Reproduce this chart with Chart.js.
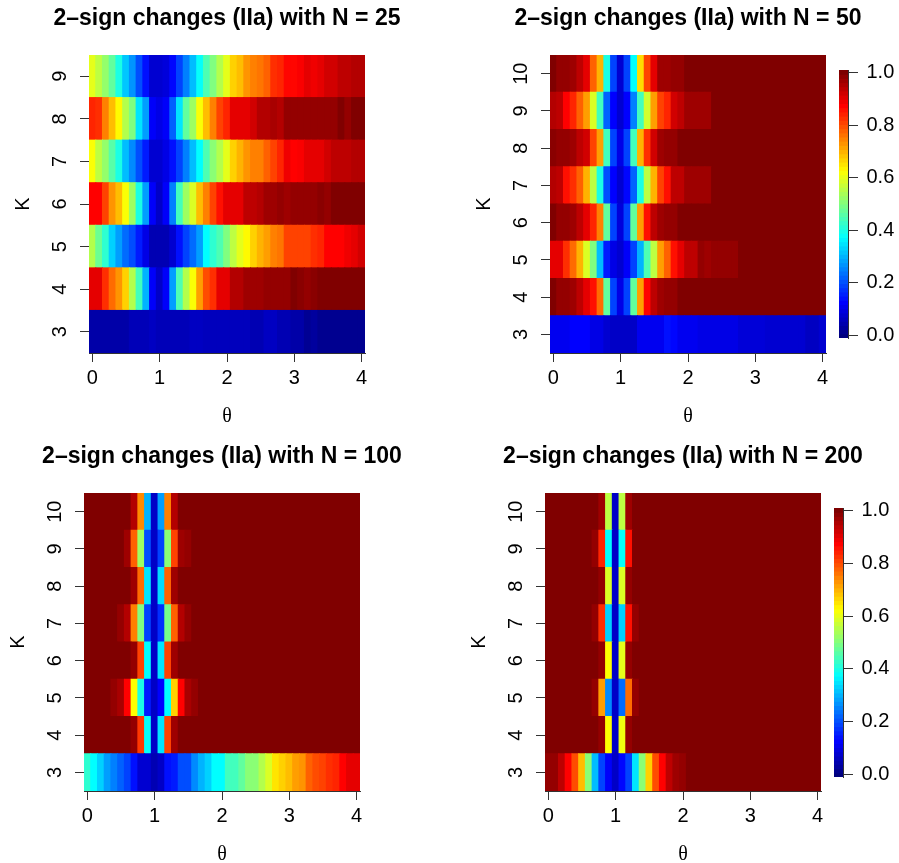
<!DOCTYPE html>
<html>
<head>
<meta charset="utf-8">
<script src="https://cdn.jsdelivr.net/npm/chart.js@4/dist/chart.umd.min.js"></script>
<style>
  html, body { margin: 0; padding: 0; background: #fff; overflow: hidden; }
  #wrap { position: relative; width: 899px; height: 863px; overflow: hidden; }
  #wrap canvas { position: absolute; }
</style>
</head>
<body>
<div id="wrap">
  <canvas id="n25" width="444" height="433" style="left:5px;top:0px"></canvas>
  <canvas id="n50" width="444" height="433" style="left:466px;top:0px"></canvas>
  <canvas id="n100" width="444" height="433" style="left:0px;top:438px"></canvas>
  <canvas id="n200" width="444" height="433" style="left:461px;top:438px"></canvas>
  <canvas id="cb50" width="64" height="318" style="left:835px;top:45px"></canvas>
  <canvas id="cb200" width="69" height="319" style="left:830px;top:483px"></canvas>
</div>
<script>
// theta grid (columns) and K values (rows)
const THETA = [0, 0.1, 0.2, 0.3, 0.4, 0.5, 0.6, 0.7, 0.8, 0.9, 1, 1.1, 1.2, 1.3, 1.4, 1.5, 1.6, 1.7, 1.8, 1.9, 2,
               2.1, 2.2, 2.3, 2.4, 2.5, 2.6, 2.7, 2.8, 2.9, 3, 3.1, 3.2, 3.3, 3.4, 3.5, 3.6, 3.7, 3.8, 3.9, 4];
const K_TO_9 = [3, 4, 5, 6, 7, 8, 9];
const K_TO_10 = [3, 4, 5, 6, 7, 8, 9, 10];
const THETA_TICKS = [0, 1, 2, 3, 4];
const LEGEND_TICKS = [0, 0.2, 0.4, 0.6, 0.8, 1];

// proportion of 2-sign-change detections, one row per K (K = 3 first)
const N25 = [
  [0.04, 0.04, 0.04, 0.04, 0.04, 0.04, 0.055, 0.055, 0.055, 0.065, 0.055, 0.055, 0.055, 0.055, 0.055, 0.065, 0.065, 0.06, 0.06, 0.06, 0.06, 0.06, 0.06, 0.06, 0.05, 0.05, 0.065, 0.065, 0.05, 0.05, 0.04, 0.04, 0.02, 0.03, 0.016, 0.016, 0.016, 0.016, 0.016, 0.016, 0.016],
  [0.90, 0.90, 0.83, 0.77, 0.73, 0.67, 0.55, 0.44, 0.30, 0.12, 0.07, 0.12, 0.28, 0.45, 0.55, 0.62, 0.72, 0.80, 0.83, 0.90, 0.90, 0.95, 0.95, 0.97, 0.97, 0.97, 0.98, 0.98, 0.98, 0.98, 1, 0.99, 0.98, 0.99, 1, 1, 1, 1, 1, 1, 1],
  [0.55, 0.48, 0.42, 0.33, 0.28, 0.23, 0.20, 0.15, 0.10, 0.05, 0.05, 0.05, 0.08, 0.14, 0.19, 0.23, 0.28, 0.375, 0.42, 0.45, 0.50, 0.56, 0.60, 0.63, 0.67, 0.70, 0.72, 0.75, 0.76, 0.81, 0.81, 0.81, 0.81, 0.83, 0.84, 0.875, 0.875, 0.875, 0.89, 0.90, 0.92],
  [0.875, 0.875, 0.81, 0.73, 0.69, 0.62, 0.53, 0.40, 0.28, 0.12, 0.07, 0.12, 0.25, 0.44, 0.53, 0.59, 0.69, 0.75, 0.81, 0.86, 0.90, 0.90, 0.90, 0.94, 0.94, 0.95, 0.97, 0.97, 0.98, 0.97, 0.98, 0.98, 0.98, 0.98, 0.99, 0.98, 1, 1, 1, 1, 1],
  [0.62, 0.56, 0.52, 0.46, 0.40, 0.31, 0.26, 0.20, 0.15, 0.08, 0.08, 0.10, 0.14, 0.19, 0.25, 0.31, 0.375, 0.45, 0.51, 0.55, 0.60, 0.67, 0.70, 0.73, 0.75, 0.75, 0.78, 0.81, 0.84, 0.89, 0.875, 0.88, 0.90, 0.90, 0.90, 0.92, 0.94, 0.94, 0.94, 0.95, 0.95],
  [0.84, 0.83, 0.75, 0.69, 0.63, 0.55, 0.50, 0.35, 0.28, 0.12, 0.10, 0.12, 0.22, 0.35, 0.47, 0.53, 0.62, 0.69, 0.75, 0.81, 0.84, 0.90, 0.90, 0.90, 0.92, 0.95, 0.95, 0.96, 0.95, 0.98, 0.98, 0.98, 0.98, 0.98, 0.98, 0.98, 0.98, 1, 0.98, 1, 1],
  [0.60, 0.56, 0.52, 0.47, 0.40, 0.32, 0.27, 0.20, 0.14, 0.08, 0.08, 0.09, 0.13, 0.19, 0.25, 0.31, 0.38, 0.45, 0.50, 0.55, 0.60, 0.67, 0.69, 0.73, 0.75, 0.76, 0.78, 0.83, 0.84, 0.87, 0.87, 0.88, 0.90, 0.89, 0.90, 0.92, 0.92, 0.94, 0.94, 0.95, 0.95]
];

const N50 = [
  [0.11, 0.11, 0.11, 0.125, 0.125, 0.125, 0.10, 0.10, 0.08, 0.07, 0.07, 0.07, 0.07, 0.11, 0.11, 0.11, 0.11, 0.14, 0.13, 0.11, 0.11, 0.11, 0.10, 0.10, 0.10, 0.10, 0.10, 0.10, 0.087, 0.087, 0.087, 0.087, 0.08, 0.08, 0.08, 0.08, 0.08, 0.08, 0.065, 0.065, 0.08],
  [1, 0.98, 0.98, 0.97, 0.94, 0.90, 0.86, 0.77, 0.47, 0.19, 0.10, 0.19, 0.47, 0.72, 0.875, 0.94, 0.97, 0.98, 0.98, 1, 1, 1, 1, 1, 1, 1, 1, 1, 1, 1, 1, 1, 1, 1, 1, 1, 1, 1, 1, 1, 1],
  [0.90, 0.90, 0.83, 0.77, 0.70, 0.59, 0.50, 0.31, 0.15, 0.10, 0.08, 0.12, 0.19, 0.30, 0.45, 0.56, 0.72, 0.78, 0.86, 0.90, 0.94, 0.94, 0.98, 0.97, 0.98, 0.98, 0.98, 0.98, 1, 1, 1, 1, 1, 1, 1, 1, 1, 1, 1, 1, 1],
  [1, 0.98, 0.98, 0.97, 0.94, 0.90, 0.84, 0.75, 0.47, 0.19, 0.09, 0.19, 0.47, 0.72, 0.86, 0.94, 0.97, 0.98, 0.98, 1, 1, 1, 1, 1, 1, 1, 1, 1, 1, 1, 1, 1, 1, 1, 1, 1, 1, 1, 1, 1, 1],
  [0.95, 0.94, 0.86, 0.83, 0.78, 0.70, 0.56, 0.40, 0.20, 0.125, 0.08, 0.13, 0.22, 0.40, 0.56, 0.70, 0.81, 0.86, 0.94, 0.94, 0.97, 0.97, 0.97, 0.97, 1, 1, 1, 1, 1, 1, 1, 1, 1, 1, 1, 1, 1, 1, 1, 1, 1],
  [0.99, 0.98, 0.98, 0.97, 0.94, 0.92, 0.81, 0.72, 0.44, 0.19, 0.10, 0.19, 0.44, 0.70, 0.83, 0.92, 0.97, 0.98, 0.98, 1, 1, 1, 1, 1, 1, 1, 1, 1, 1, 1, 1, 1, 1, 1, 1, 1, 1, 1, 1, 1, 1],
  [0.95, 0.94, 0.875, 0.84, 0.78, 0.72, 0.59, 0.44, 0.22, 0.125, 0.08, 0.125, 0.25, 0.44, 0.58, 0.72, 0.81, 0.84, 0.92, 0.94, 0.97, 0.97, 0.97, 0.97, 1, 1, 1, 1, 1, 1, 1, 1, 1, 1, 1, 1, 1, 1, 1, 1, 1],
  [1, 0.98, 0.98, 0.97, 0.94, 0.90, 0.78, 0.70, 0.40, 0.19, 0.08, 0.19, 0.375, 0.66, 0.81, 0.90, 0.97, 0.97, 0.98, 0.98, 1, 1, 1, 1, 1, 1, 1, 1, 1, 1, 1, 1, 1, 1, 1, 1, 1, 1, 1, 1, 1]
];

const N100 = [
  [0.42, 0.375, 0.33, 0.28, 0.25, 0.22, 0.19, 0.14, 0.08, 0.08, 0.05, 0.07, 0.14, 0.15, 0.20, 0.20, 0.26, 0.30, 0.33, 0.375, 0.375, 0.44, 0.44, 0.47, 0.51, 0.51, 0.55, 0.59, 0.65, 0.67, 0.69, 0.72, 0.73, 0.78, 0.80, 0.81, 0.83, 0.84, 0.875, 0.90, 0.90],
  [1, 1, 1, 1, 1, 1, 1, 0.98, 0.82, 0.38, 0.07, 0.35, 0.81, 0.97, 1, 1, 1, 1, 1, 1, 1, 1, 1, 1, 1, 1, 1, 1, 1, 1, 1, 1, 1, 1, 1, 1, 1, 1, 1, 1, 1],
  [1, 1, 1, 1, 0.98, 0.96, 0.875, 0.625, 0.40, 0.15, 0.07, 0.125, 0.375, 0.67, 0.875, 0.96, 0.98, 1, 1, 1, 1, 1, 1, 1, 1, 1, 1, 1, 1, 1, 1, 1, 1, 1, 1, 1, 1, 1, 1, 1, 1],
  [1, 1, 1, 1, 1, 1, 1, 0.98, 0.81, 0.375, 0.07, 0.35, 0.81, 0.97, 1, 1, 1, 1, 1, 1, 1, 1, 1, 1, 1, 1, 1, 1, 1, 1, 1, 1, 1, 1, 1, 1, 1, 1, 1, 1, 1],
  [1, 1, 1, 1, 1, 0.98, 0.95, 0.75, 0.50, 0.19, 0.07, 0.17, 0.49, 0.78, 0.95, 0.98, 1, 1, 1, 1, 1, 1, 1, 1, 1, 1, 1, 1, 1, 1, 1, 1, 1, 1, 1, 1, 1, 1, 1, 1, 1],
  [1, 1, 1, 1, 1, 1, 1, 0.97, 0.77, 0.35, 0.07, 0.34, 0.78, 0.97, 1, 1, 1, 1, 1, 1, 1, 1, 1, 1, 1, 1, 1, 1, 1, 1, 1, 1, 1, 1, 1, 1, 1, 1, 1, 1, 1],
  [1, 1, 1, 1, 1, 1, 0.97, 0.78, 0.53, 0.20, 0.07, 0.19, 0.51, 0.81, 0.97, 0.98, 1, 1, 1, 1, 1, 1, 1, 1, 1, 1, 1, 1, 1, 1, 1, 1, 1, 1, 1, 1, 1, 1, 1, 1, 1],
  [1, 1, 1, 1, 1, 1, 1, 0.95, 0.74, 0.30, 0.07, 0.28, 0.75, 0.95, 1, 1, 1, 1, 1, 1, 1, 1, 1, 1, 1, 1, 1, 1, 1, 1, 1, 1, 1, 1, 1, 1, 1, 1, 1, 1, 1]
];

const N200 = [
  [0.98, 0.98, 0.94, 0.875, 0.80, 0.69, 0.51, 0.31, 0.19, 0.12, 0.07, 0.13, 0.19, 0.35, 0.51, 0.67, 0.80, 0.875, 0.94, 0.97, 0.98, 1, 1, 1, 1, 1, 1, 1, 1, 1, 1, 1, 1, 1, 1, 1, 1, 1, 1, 1, 1],
  [1, 1, 1, 1, 1, 1, 1, 1, 0.98, 0.625, 0.07, 0.61, 0.98, 1, 1, 1, 1, 1, 1, 1, 1, 1, 1, 1, 1, 1, 1, 1, 1, 1, 1, 1, 1, 1, 1, 1, 1, 1, 1, 1, 1],
  [1, 1, 1, 1, 1, 1, 1, 0.98, 0.72, 0.26, 0.07, 0.23, 0.77, 0.98, 1, 1, 1, 1, 1, 1, 1, 1, 1, 1, 1, 1, 1, 1, 1, 1, 1, 1, 1, 1, 1, 1, 1, 1, 1, 1, 1],
  [1, 1, 1, 1, 1, 1, 1, 1, 0.98, 0.625, 0.07, 0.60, 0.98, 1, 1, 1, 1, 1, 1, 1, 1, 1, 1, 1, 1, 1, 1, 1, 1, 1, 1, 1, 1, 1, 1, 1, 1, 1, 1, 1, 1],
  [1, 1, 1, 1, 1, 1, 1, 0.98, 0.83, 0.33, 0.07, 0.33, 0.86, 0.98, 1, 1, 1, 1, 1, 1, 1, 1, 1, 1, 1, 1, 1, 1, 1, 1, 1, 1, 1, 1, 1, 1, 1, 1, 1, 1, 1],
  [1, 1, 1, 1, 1, 1, 1, 1, 0.98, 0.59, 0.07, 0.59, 0.98, 1, 1, 1, 1, 1, 1, 1, 1, 1, 1, 1, 1, 1, 1, 1, 1, 1, 1, 1, 1, 1, 1, 1, 1, 1, 1, 1, 1],
  [1, 1, 1, 1, 1, 1, 1, 0.98, 0.84, 0.375, 0.07, 0.38, 0.86, 1, 1, 1, 1, 1, 1, 1, 1, 1, 1, 1, 1, 1, 1, 1, 1, 1, 1, 1, 1, 1, 1, 1, 1, 1, 1, 1, 1],
  [1, 1, 1, 1, 1, 1, 1, 1, 0.97, 0.56, 0.07, 0.56, 0.97, 1, 1, 1, 1, 1, 1, 1, 1, 1, 1, 1, 1, 1, 1, 1, 1, 1, 1, 1, 1, 1, 1, 1, 1, 1, 1, 1, 1]
];

const SANS = '"Liberation Sans", Arial, Helvetica, sans-serif';
const SERIF = '"Liberation Serif", "Times New Roman", serif';
const AXIS_COL = '#333';

// jet colour ramp: dark blue -> blue -> cyan -> yellow -> red -> dark red
function jet(v) {
  const c = x => Math.round(255 * Math.max(0, Math.min(1, x)));
  return `rgb(${c(1.5 - Math.abs(4 * v - 3))},${c(1.5 - Math.abs(4 * v - 2))},${c(1.5 - Math.abs(4 * v - 1))})`;
}

function heatmap(id, n, kVals, rows) {
  rows.forEach((r, i) => {
    if (r.length !== THETA.length) throw new Error(`N=${n}, K=${kVals[i]}: ${r.length} cells`);
  });
  const kMax = kVals[kVals.length - 1];

  const datasets = kVals.map((k, r) => ({
    data: THETA.map(t => ({ x: t, y: [k - 0.5, k + 0.5] })),
    backgroundColor: rows[r].map(jet),
    borderWidth: 0,
    grouped: false,
    barPercentage: 1,
    categoryPercentage: 1,
    inflateAmount: 0.5
  }));

  new Chart(document.getElementById(id), {
    type: 'bar',
    data: { datasets },
    options: {
      responsive: false,
      animation: false,
      events: [],
      layout: { padding: 0 },
      plugins: {
        legend: { display: false },
        tooltip: { enabled: false },
        title: {
          display: true,
          text: `2–sign changes (IIa) with N = ${n}`,
          color: '#000',
          font: { family: SANS, size: 23, weight: 'bold' },
          padding: { top: 4.5, bottom: 22.9 }
        }
      },
      scales: {
        x: {
          type: 'linear',
          min: -0.05,
          max: 4.05,
          offset: false,
          z: 1,
          afterBuildTicks: s => { s.ticks = THETA_TICKS.map(v => ({ value: v })); },
          afterFit: s => { s.height = 80; },
          grid: { offset: false, drawOnChartArea: false, tickLength: 9, color: AXIS_COL },
          border: { display: true, color: AXIS_COL },
          ticks: { color: '#000', font: { family: SANS, size: 20 }, padding: 4.5, minRotation: 0, maxRotation: 0, autoSkip: false },
          title: { display: true, text: 'θ', color: '#000', font: { family: SERIF, size: 20 }, padding: { top: 0, bottom: 4.7 } }
        },
        y: {
          type: 'linear',
          min: 2.5,
          max: kMax + 0.5,
          z: 1,
          afterBuildTicks: s => { s.ticks = kVals.map(v => ({ value: v })); },
          afterFit: s => { s.width = 84; },
          grid: { drawOnChartArea: false, tickLength: 9, color: AXIS_COL },
          border: { display: true, color: AXIS_COL },
          ticks: {
            color: '#000',
            font: { family: SANS, size: 20 },
            minRotation: 90,
            maxRotation: 90,
            crossAlign: 'center',
            padding: kMax >= 10 ? 8.2 : 13.7,
            autoSkip: false
          },
          title: { display: true, text: 'K', color: '#000', font: { family: SANS, size: 20 }, padding: { top: 6, bottom: 0 } }
        },
        // empty right-hand margin, same width as the K axis, so the title centres over the plot
        margin: {
          type: 'linear',
          position: 'right',
          afterFit: s => { s.width = 84; },
          grid: { display: false },
          border: { display: false },
          ticks: { display: false }
        }
      }
    }
  });
}

// colour key, drawn as thin horizontal bars stacked along the value axis
function colorKey(id, axisWidth) {
  const lo = -0.01, hi = 1.01, steps = 64;
  const levels = [];
  for (let i = 0; i < steps; i++) levels.push(lo + (i + 0.5) * (hi - lo) / steps);

  new Chart(document.getElementById(id), {
    type: 'bar',
    data: {
      datasets: [{
        data: levels.map(v => ({ y: v, x: [0, 1] })),
        backgroundColor: levels.map(jet),
        borderWidth: 0,
        grouped: false,
        barPercentage: 1,
        categoryPercentage: 1,
        inflateAmount: 0.5
      }]
    },
    options: {
      indexAxis: 'y',
      responsive: false,
      animation: false,
      events: [],
      // room above and below for the end labels, so the bar keeps its full length
      layout: { padding: { left: 4, right: 0, top: 25, bottom: 25 } },
      plugins: { legend: { display: false }, tooltip: { enabled: false } },
      scales: {
        x: { type: 'linear', min: 0, max: 1, display: false },
        y: {
          type: 'linear',
          position: 'right',
          min: lo,
          max: hi,
          offset: false,
          z: 1,
          afterBuildTicks: s => { s.ticks = LEGEND_TICKS.map(v => ({ value: v })); },
          afterFit: s => { s.width = axisWidth; },
          grid: { offset: false, drawOnChartArea: false, tickLength: 10, color: AXIS_COL },
          border: { display: true, color: AXIS_COL },
          ticks: {
            color: '#000',
            font: { family: SANS, size: 20 },
            padding: 8.5,
            autoSkip: false,
            callback: v => v.toFixed(1)
          }
        }
      }
    }
  });
}

heatmap('n25', 25, K_TO_9, N25);
heatmap('n50', 50, K_TO_10, N50);
heatmap('n100', 100, K_TO_10, N100);
heatmap('n200', 200, K_TO_10, N200);
colorKey('cb50', 51);
colorKey('cb200', 56);
</script>
</body>
</html>
